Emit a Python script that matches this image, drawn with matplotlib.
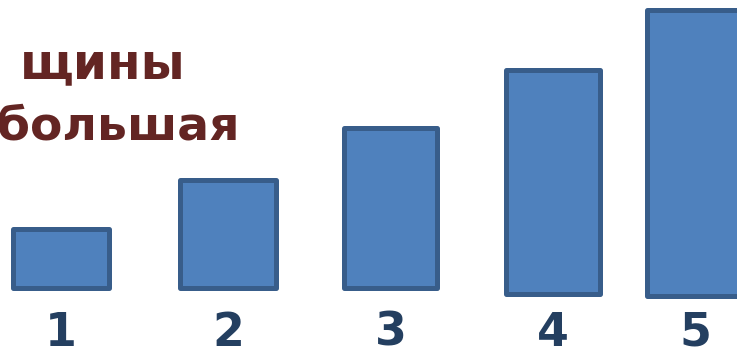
import matplotlib
matplotlib.use('Agg')
import matplotlib.pyplot as plt

labels = ['1', '2', '3', '4', '5']
heights = [59, 108, 160, 224, 286]
bottoms = [64, 64, 64, 58, 56]
centers = [61, 228, 391, 553, 695]
widths = [96, 96, 93, 94, 96]
title_lines = ['щины', 'большая']

fig = plt.figure(figsize=(7.37, 3.52), dpi=100)
ax = fig.add_axes([0, 0, 1, 1])
ax.set_xlim(0, 737)
ax.set_ylim(0, 352)
ax.axis('off')

bars = ax.bar(centers, heights, width=widths, bottom=bottoms,
              color='#4F81BD', edgecolor='#385D8A', linewidth=3.6)
for b in bars:
    b.set_joinstyle('round')

for c, lab in zip(centers, labels):
    ax.text(c, 6, lab, ha='center', va='baseline', fontsize=33,
            fontweight='bold', color='#243F60', family='DejaVu Sans')

# slide is cropped on the left, only the word endings are visible
ax.text(186, 274, title_lines[0], ha='right', va='baseline', fontsize=35,
        fontweight='bold', color='#632523', family='DejaVu Sans')
ax.text(240, 212, title_lines[1], ha='right', va='baseline', fontsize=34,
        fontweight='bold', color='#632523', family='DejaVu Sans')

fig.savefig('out.png', dpi=100)
